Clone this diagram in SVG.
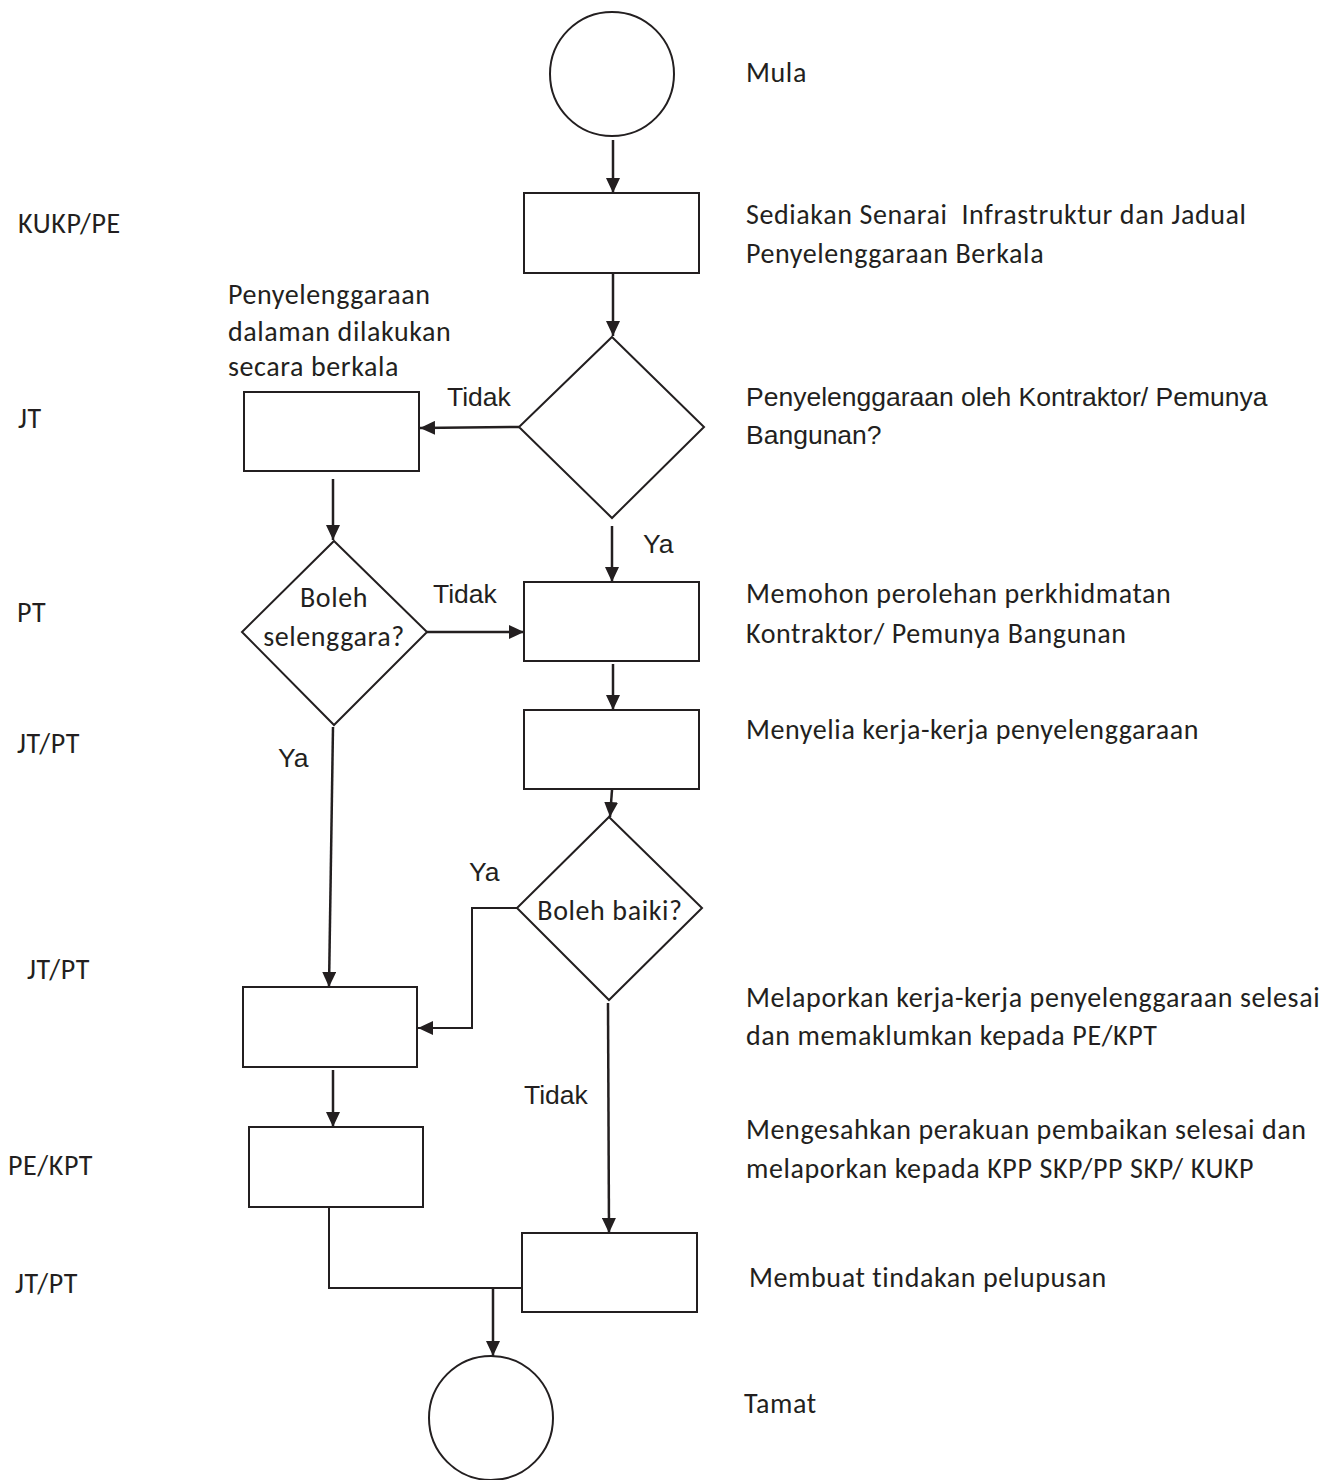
<svg xmlns="http://www.w3.org/2000/svg" width="1334" height="1480" viewBox="0 0 1334 1480">
<defs>
<style>
.shape{fill:#fff;stroke:#231f20;stroke-width:2}
.conn{fill:none;stroke:#231f20;stroke-width:2.5}
.line{fill:none;stroke:#231f20;stroke-width:2}
.cal{font-family:Carlito,Lato,"Open Sans",sans-serif;font-size:28px;letter-spacing:0.6px;fill:#231f20}
.ari{font-family:"Liberation Sans",Arial,sans-serif;font-size:26.5px;fill:#231f20}
.mid{text-anchor:middle}
</style>
<marker id="ah" markerWidth="15" markerHeight="14" refX="15" refY="7" orient="auto" markerUnits="userSpaceOnUse">
<path d="M0,0 L15,7 L0,14 z" fill="#231f20"/>
</marker>
</defs>
<rect width="1334" height="1480" fill="#fff"/>

<g id="connectors">
<line class="conn" x1="613" y1="140" x2="613" y2="193" marker-end="url(#ah)"/>
<line class="conn" x1="613" y1="273" x2="613" y2="336" marker-end="url(#ah)"/>
<line class="conn" x1="519" y1="427" x2="420" y2="428" marker-end="url(#ah)"/>
<line class="conn" x1="333" y1="479" x2="333" y2="540" marker-end="url(#ah)"/>
<line class="conn" x1="612" y1="526" x2="612" y2="582" marker-end="url(#ah)"/>
<line class="conn" x1="427" y1="632" x2="524" y2="632" marker-end="url(#ah)"/>
<line class="conn" x1="613" y1="664" x2="613" y2="710" marker-end="url(#ah)"/>
<line class="conn" x1="612" y1="790" x2="610" y2="817" marker-end="url(#ah)"/>
<polyline class="line" points="517,908 472,908 472,1028 418,1028" marker-end="url(#ah)"/>
<line class="conn" x1="333" y1="727" x2="329" y2="987" marker-end="url(#ah)"/>
<line class="conn" x1="333" y1="1070" x2="333" y2="1127" marker-end="url(#ah)"/>
<line class="conn" x1="608" y1="1003" x2="609" y2="1233" marker-end="url(#ah)"/>
<polyline class="line" points="329,1207 329,1288 522,1288"/>
<line class="conn" x1="493" y1="1289" x2="493" y2="1356" marker-end="url(#ah)"/>
</g>

<g id="start"><circle class="shape" cx="612" cy="74" r="62"/></g>
<g id="sediakan"><rect class="shape" x="524" y="193" width="175" height="80"/></g>
<g id="decision-kontraktor"><polygon class="shape" points="612,337 704,427 612,518 519,427"/></g>
<g id="dalaman"><rect class="shape" x="244" y="392" width="175" height="79"/></g>
<g id="decision-selenggara">
<polygon class="shape" points="334,541 427,632 334,725 242,632"/>
<text class="cal mid" x="334" y="607">Boleh</text>
<text class="cal mid" x="334" y="646">selenggara?</text>
</g>
<g id="memohon"><rect class="shape" x="524" y="582" width="175" height="79"/></g>
<g id="menyelia"><rect class="shape" x="524" y="710" width="175" height="79"/></g>
<g id="decision-baiki">
<polygon class="shape" points="609,817 702,908 609,1000 517,908"/>
<text class="cal mid" x="610" y="920">Boleh baiki?</text>
</g>
<g id="melaporkan"><rect class="shape" x="243" y="987" width="174" height="80"/></g>
<g id="mengesahkan"><rect class="shape" x="249" y="1127" width="174" height="80"/></g>
<g id="pelupusan"><rect class="shape" x="522" y="1233" width="175" height="79"/></g>
<g id="end"><circle class="shape" cx="491" cy="1418" r="62"/></g>

<g id="edge-labels">
<text class="ari" x="447" y="406">Tidak</text>
<text class="ari" x="643" y="553">Ya</text>
<text class="ari" x="433" y="603">Tidak</text>
<text class="ari" x="278" y="767">Ya</text>
<text class="ari" x="469" y="881">Ya</text>
<text class="ari" x="524" y="1104">Tidak</text>
</g>

<g id="descriptions">
<text class="cal" x="746" y="82">Mula</text>
<text class="cal" x="746" y="224" xml:space="preserve">Sediakan Senarai  Infrastruktur dan Jadual</text>
<text class="cal" x="746" y="263">Penyelenggaraan Berkala</text>
<text class="cal" x="228" y="304">Penyelenggaraan</text>
<text class="cal" x="228" y="341">dalaman dilakukan</text>
<text class="cal" x="228" y="376">secara berkala</text>
<text class="ari" x="746" y="406">Penyelenggaraan oleh Kontraktor/ Pemunya</text>
<text class="ari" x="746" y="444">Bangunan?</text>
<text class="cal" x="746" y="603">Memohon perolehan perkhidmatan</text>
<text class="cal" x="746" y="643">Kontraktor/ Pemunya Bangunan</text>
<text class="cal" x="746" y="739">Menyelia kerja-kerja penyelenggaraan</text>
<text class="cal" x="746" y="1007">Melaporkan kerja-kerja penyelenggaraan selesai</text>
<text class="cal" x="746" y="1045">dan memaklumkan kepada PE/KPT</text>
<text class="cal" x="746" y="1139">Mengesahkan perakuan pembaikan selesai dan</text>
<text class="cal" x="746" y="1178">melaporkan kepada KPP SKP/PP SKP/ KUKP</text>
<text class="cal" x="749" y="1287">Membuat tindakan pelupusan</text>
<text class="cal" x="744" y="1413">Tamat</text>
</g>

<g id="roles">
<text class="cal" x="18" y="233">KUKP/PE</text>
<text class="cal" x="18" y="428">JT</text>
<text class="cal" x="17" y="622">PT</text>
<text class="cal" x="17" y="753">JT/PT</text>
<text class="cal" x="27" y="979">JT/PT</text>
<text class="cal" x="8" y="1175">PE/KPT</text>
<text class="cal" x="15" y="1293">JT/PT</text>
</g>
</svg>
